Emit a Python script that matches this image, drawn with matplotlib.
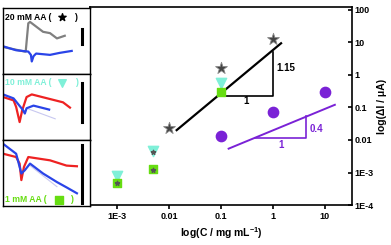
import matplotlib
matplotlib.use("Agg")
import matplotlib.pyplot as plt

plt.rcParams["font.family"] = ["Liberation Sans", "DejaVu Sans"]
plt.rcParams["font.weight"] = "bold"
plt.rcParams["mathtext.fontset"] = "custom"
plt.rcParams["mathtext.bf"] = "Liberation Sans:bold"
plt.rcParams["mathtext.rm"] = "Liberation Sans:bold"

# main plot data (concentration in mg/mL, current in uA)
star_x = [0.01, 0.1, 1]
star_y = [0.023, 1.6, 12.3]
tri_x = [1e-3, 0.005, 0.1]
tri_y = [8e-4, 0.0047, 0.57]
sq_x = [1e-3, 0.005, 0.1]
sq_y = [4.7e-4, 1.3e-3, 0.3]
small_x = [1e-3, 0.005, 0.005]
small_y = [4.7e-4, 0.0042, 1.2e-3]
circ_x = [0.1, 1, 10]
circ_y = [0.013, 0.07, 0.29]

fit_black_x = [0.014, 1.43]
fit_black_y = [0.02, 9.3]
fit_purple_x = [0.14, 15.5]
fit_purple_y = [0.0054, 0.12]

tri_black_x = [0.1, 1, 1]
tri_black_y = [0.23, 0.23, 5.0]
tri_purple_x = [0.45, 4.3, 4.3]
tri_purple_y = [0.0115, 0.0115, 0.054]

x_ticks = [1e-3, 0.01, 0.1, 1, 10]
x_labels = ["1E-3", "0.01", "0.1", "1", "10"]
y_ticks = [1e-4, 1e-3, 0.01, 0.1, 1, 10, 100]
y_labels = ["1E-4", "1E-3", "0.01", "0.1", "1", "10", "100"]

# inset traces, in panel (axes) coordinates
p1_grey_x = [0, 0.25, 0.26, 0.29, 0.31, 0.46, 0.54, 0.62, 0.71]
p1_grey_y = [0.41, 0.34, 0.34, 0.77, 0.79, 0.64, 0.62, 0.54, 0.58]
p1_blue_x = [0, 0.15, 0.29, 0.32, 0.33, 0.35, 0.38, 0.54, 0.65, 0.79]
p1_blue_y = [0.42, 0.36, 0.34, 0.29, 0.19, 0.27, 0.31, 0.29, 0.32, 0.35]
p2_red_x = [0, 0.12, 0.15, 0.19, 0.22, 0.27, 0.33, 0.54, 0.69, 0.77]
p2_red_y = [0.65, 0.6, 0.5, 0.27, 0.45, 0.65, 0.69, 0.62, 0.57, 0.49]
p2_blue_x = [0, 0.12, 0.23, 0.25, 0.27, 0.35, 0.53]
p2_blue_y = [0.69, 0.63, 0.45, 0.4, 0.48, 0.52, 0.46]
p2_pale_x = [0.27, 0.6]
p2_pale_y = [0.48, 0.32]
p3_red_x = [0, 0.15, 0.19, 0.21, 0.24, 0.29, 0.54, 0.73, 0.85]
p3_red_y = [0.79, 0.74, 0.64, 0.39, 0.59, 0.74, 0.69, 0.61, 0.6]
p3_blue_x = [0, 0.15, 0.21, 0.25, 0.31, 0.46, 0.62, 0.73, 0.85]
p3_blue_y = [0.94, 0.79, 0.49, 0.54, 0.64, 0.49, 0.36, 0.28, 0.19]
p3_pale_x = [0.31, 0.62]
p3_pale_y = [0.61, 0.29]

C_TRI = "#7ff0d8"
C_SQ = "#66dd11"
C_PUR = "#7a22d6"
C_BLUE = "#2a44e8"
C_RED = "#ee2222"
C_PALE = "#c8c8f0"

fig = plt.figure(figsize=(3.91, 2.45), dpi=100)

ax = fig.add_axes([0.230, 0.163, 0.670, 0.808])
ax.set_xscale("log")
ax.set_yscale("log")
ax.set_xlim(3e-4, 33)
ax.set_ylim(1e-4, 120)

ax.plot(fit_black_x, fit_black_y, color="black", lw=1.6)
ax.plot(tri_black_x, tri_black_y, color="black", lw=1.2)
ax.plot(fit_purple_x, fit_purple_y, color=C_PUR, lw=1.4)
ax.plot(tri_purple_x, tri_purple_y, color=C_PUR, lw=1.2)

ax.scatter(tri_x, tri_y, marker="v", s=55, color=C_TRI, zorder=3)
ax.scatter(sq_x, sq_y, marker="s", s=32, color=C_SQ, zorder=3)
ax.scatter(small_x, small_y, marker="*", s=10, color="#555555", zorder=4)
ax.scatter(star_x, star_y, marker="*", s=80, color="#444444",
           edgecolor="#888888", linewidth=0.6, zorder=4)
ax.scatter(circ_x, circ_y, marker="o", s=55, color=C_PUR, zorder=3)

ax.text(1.15, 1.3, "1.15", fontsize=7, fontweight="bold")
ax.text(0.3, 0.13, "1", fontsize=7, fontweight="bold", ha="center")
ax.text(5.0, 0.018, "0.4", fontsize=7, fontweight="bold", color=C_PUR)
ax.text(1.4, 0.0055, "1", fontsize=7, fontweight="bold", color=C_PUR, ha="center")

ax.set_xticks(x_ticks)
ax.set_xticklabels(x_labels)
ax.set_yticks(y_ticks)
ax.set_yticklabels(y_labels)
ax.minorticks_off()
ax.yaxis.tick_right()
ax.yaxis.set_label_position("right")
ax.tick_params(axis="x", labelsize=6.5, width=1.2, length=3, pad=2)
ax.tick_params(axis="y", labelsize=6.5, width=1.2, length=3, pad=2, direction="in")
for lab in ax.get_xticklabels() + ax.get_yticklabels():
    lab.set_fontweight("bold")
for sp in ax.spines.values():
    sp.set_linewidth(1.2)
ax.set_xlabel("log(C / mg mL$^{\\mathbf{-1}}$)", fontsize=7.5, fontweight="bold", labelpad=3)
ax.set_ylabel("log(ΔI / μA)", fontsize=7.5, fontweight="bold", labelpad=2)

# left inset panels: label, colour, marker, traces, scale bar, label y, marker x, ")" x
panels = [
    ("20 mM AA (", "black", "*",
     [(p1_grey_x, p1_grey_y, "#808080"), (p1_blue_x, p1_blue_y, C_BLUE)],
     (0.69, 0.46), 0.86, 0.68, 0.83),
    ("10 mM AA (", C_TRI, "v",
     [(p2_pale_x, p2_pale_y, C_PALE), (p2_red_x, p2_red_y, C_RED), (p2_blue_x, p2_blue_y, C_BLUE)],
     (0.86, 0.27), 0.87, 0.68, 0.84),
    ("1 mM AA (", C_SQ, "s",
     [(p3_pale_x, p3_pale_y, C_PALE), (p3_red_x, p3_red_y, C_RED), (p3_blue_x, p3_blue_y, C_BLUE)],
     (0.93, 0.04), 0.09, 0.64, 0.79),
]
h = 0.269
for i, (label, tcol, mk, traces, bar, ty, mx, px) in enumerate(panels):
    a = fig.add_axes([0.008, 0.967 - (i + 1) * h, 0.222, h])
    a.set_xlim(0, 1)
    a.set_ylim(0, 1)
    a.set_xticks([])
    a.set_yticks([])
    for sp in a.spines.values():
        sp.set_linewidth(1.0)
    for tx, tyy, c in traces:
        a.plot(tx, tyy, color=c, lw=0.8 if c == C_PALE else 1.6)
    a.plot([0.91, 0.91], [bar[1], bar[0]], color="black", lw=2.2)
    a.text(0.02, ty, label, color=tcol, fontsize=6.2, fontweight="bold",
           va="center")
    a.text(px, ty, ")", color=tcol, fontsize=6.2, fontweight="bold",
           va="center", ha="center")
    a.scatter([mx], [ty], marker=mk, s=30, color=tcol)

fig.savefig("out.png", dpi=100)
